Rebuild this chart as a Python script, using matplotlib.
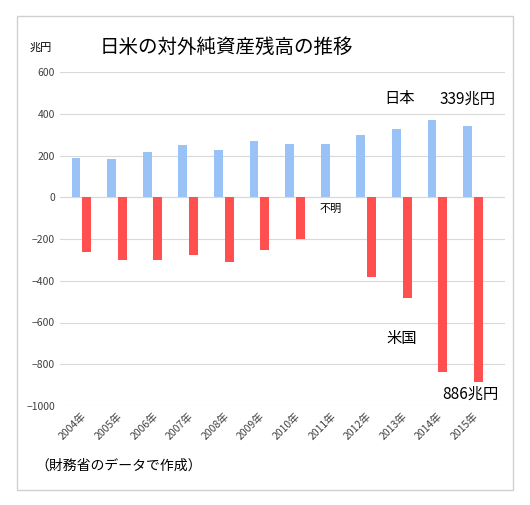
import matplotlib
matplotlib.use("Agg")
import matplotlib.pyplot as plt
from matplotlib.patches import Rectangle
import numpy as np

plt.rcParams['font.family'] = ['Noto Sans CJK JP', 'DejaVu Sans']

years = ["2004年","2005年","2006年","2007年","2008年","2009年","2010年","2011年","2012年","2013年","2014年","2015年"]
japan = [187, 182, 215, 249, 225, 268, 254, 254, 297, 325, 368, 339]
usa = [-263, -301, -301, -278, -311, -254, -201, np.nan, -383, -483, -837, -886]

fig = plt.figure(figsize=(5.30, 5.05), dpi=100)
fig.patches.append(Rectangle((17/530, 15/505), 496/530, 474/505, transform=fig.transFigure,
                             fill=False, edgecolor='#d0d0d0', lw=1))
ax = fig.add_axes([60/530, 1-406/505, 445/530, 334/505])
x = np.arange(len(years))
w = 0.25
ax.bar(x - 0.15, japan, w, color='#99c2f7', zorder=3)
ax.bar(x + 0.15, usa, w, color='#ff4f4f', zorder=3)
ax.set_ylim(-1000, 600)
ax.set_yticks(range(-1000, 601, 200))
ax.set_xlim(-0.6, 11.9)
ax.set_xticks(x)
ax.set_xticklabels(years, rotation=45, ha='right', rotation_mode='anchor', fontsize=7.5, color='#404040')
ax.tick_params(axis='y', labelsize=7.5, colors='#404040', length=0)
ax.tick_params(axis='x', length=0)
ax.grid(axis='y', color='#d9d9d9', lw=0.8, zorder=0)
for s in ax.spines.values():
    s.set_visible(False)
ax.axhline(0, color='#d9d9d9', lw=0.8, zorder=1)

fig.text(30/530, 1-48/505, "兆円", fontsize=8, va='center')
fig.text(100/530, 1-47/505, "日米の対外純資産残高の推移", fontsize=14, va='center')
ax.text(7, -55, "不明", fontsize=8, ha='center', va='center')
fig.text(400/530, 1-99/505, "日本", fontsize=11, ha='center', va='center')
fig.text(468/530, 1-99/505, "339兆円", fontsize=11, ha='center', va='center')
fig.text(402/530, 1-338/505, "米国", fontsize=11, ha='center', va='center')
fig.text(470/530, 1-394/505, "886兆円", fontsize=11, ha='center', va='center')
fig.text(35/530, 1-466/505, "（財務省のデータで作成）", fontsize=10, va='center')

fig.savefig("out.png", dpi=100)
